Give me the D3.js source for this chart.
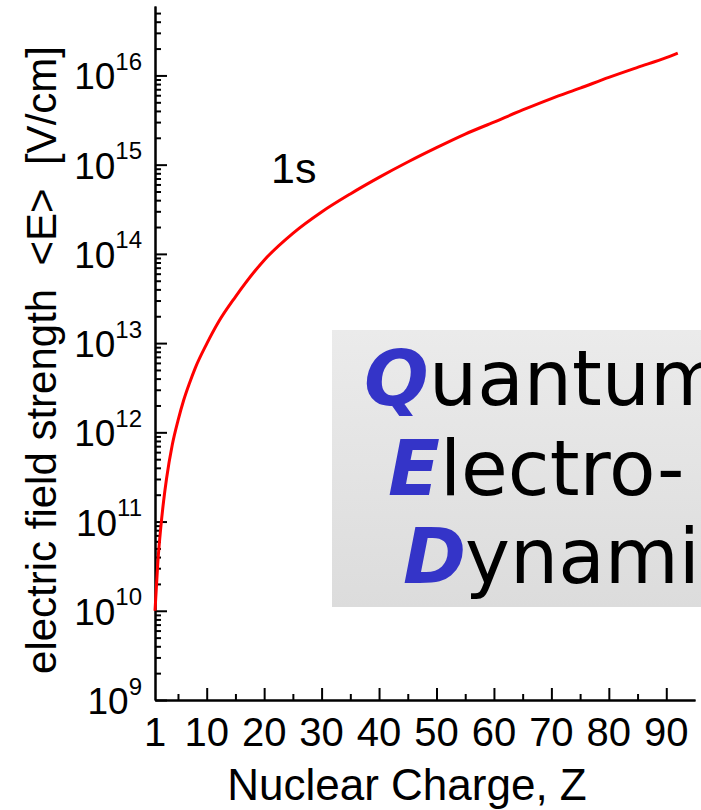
<!DOCTYPE html>
<html>
<head>
<meta charset="utf-8">
<script src="https://cdn.jsdelivr.net/npm/d3@7"></script>
<style>
  html, body { margin: 0; padding: 0; background: #fff; }
  svg { display: block; }
  text { font-family: "Liberation Sans", Arial, sans-serif; fill: #000; }
</style>
</head>
<body>
<svg id="chart" width="701" height="810"></svg>
<script>
// Mean electric field strength of the 1s electron versus nuclear charge Z
const nuclearCharge = [1, 1.5, 2, 2.5, 3, 4, 5, 6, 7, 8, 10, 12, 15, 20, 25, 30, 35, 40, 45, 50, 55, 60, 65, 70, 75, 80, 85, 90, 92];
const fieldStrength = [1.0e10, 3.55e10, 8.5e10, 1.7e11, 3.0e11, 7.2e11, 1.35e12, 2.3e12, 3.55e12, 5.25e12,
                       9.8e12, 1.7e13, 3.3e13, 8.5e13, 1.7e14, 2.95e14, 4.7e14, 7.2e14, 1.07e15, 1.55e15,
                       2.2e15, 3.0e15, 4.1e15, 5.5e15, 7.2e15, 9.5e15, 1.23e16, 1.58e16, 1.78e16];

const xMajorTicks = [10, 20, 30, 40, 50, 60, 70, 80, 90];
const xMinorTicks = [5, 15, 25, 35, 45, 55, 65, 75, 85];
const xTickLabels = [1, 10, 20, 30, 40, 50, 60, 70, 80, 90];
const yExponents = [9, 10, 11, 12, 13, 14, 15, 16];

const svg = d3.select("#chart");

const x = d3.scaleLinear().domain([1, 95]).range([155, 695]);
const y = d3.scaleLog().domain([1e9, 6e16]).range([700, 6]);

// minor ticks on the log axis: 2..9 within every decade, up to the axis end
const yMinor = [];
for (let e = 9; e <= 16; e++) {
  for (let m = 2; m <= 9; m++) {
    const v = m * Math.pow(10, e);
    if (v < 6e16) yMinor.push(v);
  }
}
const yMajor = yExponents.map(e => Math.pow(10, e));

// QED panel
const defs = svg.append("defs");
const grad = defs.append("linearGradient").attr("id", "panelFill")
  .attr("x1", 0).attr("y1", 0).attr("x2", 0).attr("y2", 1);
grad.append("stop").attr("offset", "0%").attr("stop-color", "#ebebeb");
grad.append("stop").attr("offset", "100%").attr("stop-color", "#dcdcdc");

svg.append("rect")
  .attr("x", 332).attr("y", 330).attr("width", 380).attr("height", 277)
  .attr("fill", "url(#panelFill)");

const qed = [
  { head: "Q", rest: "uantum", hx: 364, rx: 429, base: 405 },
  { head: "E", rest: "lectro-", hx: 388, rx: 440, base: 495 },
  { head: "D", rest: "ynami", hx: 403, rx: 465, base: 583 }
];
const qedG = svg.append("g").style("font-size", "76px");
qed.forEach(d => {
  qedG.append("text").attr("x", d.hx).attr("y", d.base)
    .style("font-family", '"DejaVu Sans", Verdana, sans-serif')
    .style("font-weight", "bold").style("font-style", "italic")
    .style("fill", "#3434c8").text(d.head);
  qedG.append("text").attr("x", d.rx).attr("y", d.base)
    .style("font-family", '"DejaVu Sans", Verdana, sans-serif')
    .text(d.rest);
});

// axes with inward ticks
const axisStyle = g => {
  g.selectAll("path.domain").attr("stroke", "#000").attr("stroke-width", 2);
  g.selectAll(".tick line").attr("stroke", "#000").attr("stroke-width", 2);
  g.selectAll(".tick text").remove();
};

svg.append("g").attr("transform", "translate(0,700)")
  .call(d3.axisBottom(x).tickValues(xMinorTicks).tickSize(-6).tickSizeOuter(0).tickFormat(""))
  .call(axisStyle);
svg.append("g").attr("transform", "translate(0,700)")
  .call(d3.axisBottom(x).tickValues(xMajorTicks).tickSize(-12).tickSizeOuter(0).tickFormat(""))
  .call(axisStyle);

svg.append("g").attr("transform", "translate(155,0)")
  .call(d3.axisLeft(y).tickValues(yMinor).tickSize(-6).tickSizeOuter(0).tickFormat(""))
  .call(axisStyle);
svg.append("g").attr("transform", "translate(155,0)")
  .call(d3.axisLeft(y).tickValues(yMajor).tickSize(-12).tickSizeOuter(0).tickFormat(""))
  .call(axisStyle);

// x tick labels
svg.append("g").selectAll("text").data(xTickLabels).join("text")
  .attr("x", d => x(d)).attr("y", 746)
  .attr("text-anchor", "middle")
  .style("font-size", "40px")
  .text(d => d);

// y tick labels: 10 with a raised exponent
const yl = svg.append("g").selectAll("text").data(yExponents).join("text")
  .attr("x", 142).attr("y", d => y(Math.pow(10, d)) + 14)
  .attr("text-anchor", "end")
  .style("font-size", "37px");
yl.append("tspan").text("10");
yl.append("tspan").attr("dy", -19.5).style("font-size", "24px").text(d => d);

// axis titles
svg.append("text")
  .attr("x", 407).attr("y", 800)
  .attr("text-anchor", "middle")
  .style("font-size", "44px")
  .text("Nuclear Charge, Z");

svg.append("text")
  .attr("transform", "translate(56,360) rotate(-90)")
  .attr("text-anchor", "middle")
  .style("font-size", "42px")
  .style("white-space", "pre")
  .text("electric field strength  <E>  [V/cm]");

// the 1s curve
const line = d3.line()
  .x((d, i) => x(nuclearCharge[i]))
  .y(d => y(d))
  .curve(d3.curveMonotoneX);

svg.append("path")
  .datum(fieldStrength)
  .attr("d", line)
  .attr("fill", "none")
  .attr("stroke", "#ff0000")
  .attr("stroke-width", 3);

svg.append("text")
  .attr("x", 271).attr("y", 183)
  .style("font-size", "43px")
  .text("1s");
</script>
</body>
</html>
